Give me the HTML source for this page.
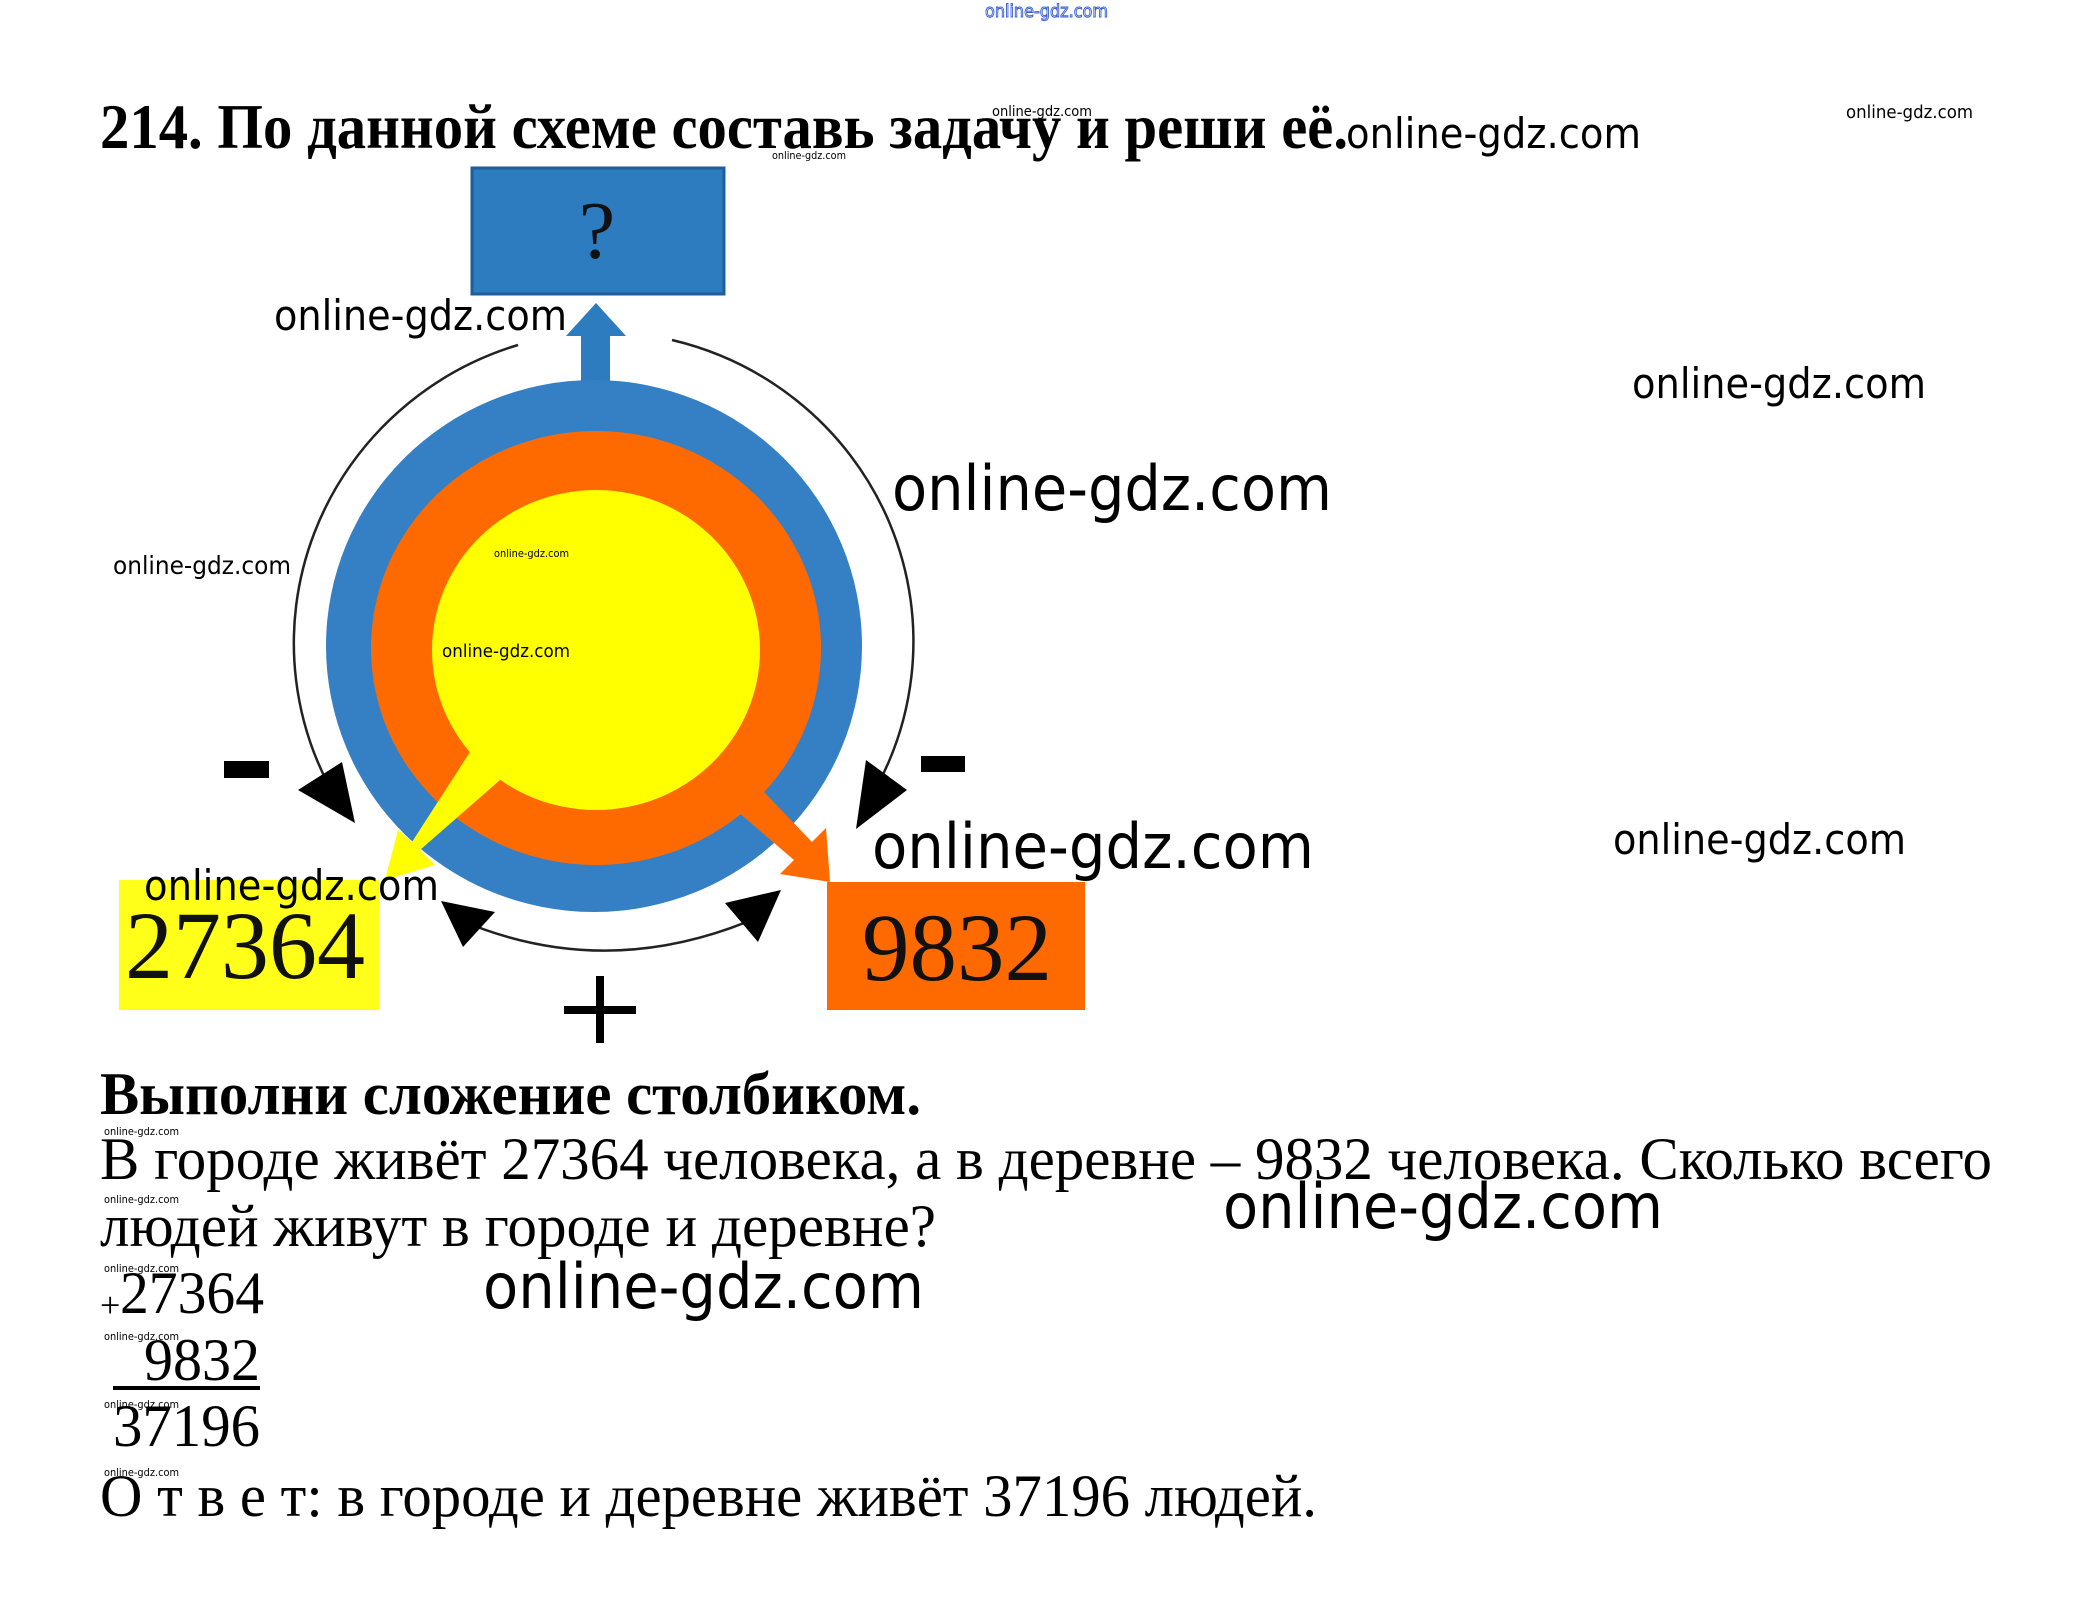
<!DOCTYPE html>
<html><head><meta charset="utf-8"><style>html,body{margin:0;padding:0;background:#fff}svg{display:block}</style></head>
<body>
<svg width="2083" height="1605" viewBox="0 0 2083 1605" xmlns="http://www.w3.org/2000/svg">
<rect width="2083" height="1605" fill="#fff"/>
<g font-family="'Liberation Serif','DejaVu Serif',serif" fill="#000">
<text x="100" y="148" font-size="64" font-weight="bold" textLength="1248" lengthAdjust="spacingAndGlyphs">214. По данной схеме составь задачу и реши её.</text>
</g>
<rect x="472" y="168" width="252" height="126" fill="#2e7cc0" stroke="#1e5e9a" stroke-width="3"/>
<text x="597" y="258" font-family="'Liberation Serif',serif" font-size="82" text-anchor="middle" fill="#111">?</text>
<rect x="581" y="333" width="29" height="50" fill="#2e7cc0"/>
<polygon points="566,336 596,303 626,336" fill="#2e7cc0"/>
<ellipse cx="594" cy="646" rx="268" ry="266" fill="#3580c4"/>
<ellipse cx="596" cy="648" rx="225" ry="217" fill="#ff6a00"/>
<ellipse cx="596" cy="650" rx="164" ry="160" fill="#ffff00"/>
<polygon points="470,752 500,780 420,850 435,865 385,880 398,830 412,842" fill="#ffff00"/>
<polygon points="738,812 762,790 812,842 826,828 830,882 780,874 794,860" fill="#ff6a00"/>
<g fill="none" stroke="#222" stroke-width="2.5">
<path d="M518,345 A318,312 0 0 0 340,805"/>
<path d="M672,340 A315,310 0 0 1 866,805"/>
<path d="M460,920 Q612,985 770,912"/>
</g>
<polygon points="355,823 298,790 342,762" fill="#000"/>
<polygon points="856,829 866,760 907,790" fill="#000"/>
<polygon points="441,901 495,912 463,947" fill="#000"/>
<polygon points="781,890 725,903 758,942" fill="#000"/>
<rect x="224" y="761" width="45" height="17" fill="#000"/>
<rect x="921" y="756" width="44" height="16" fill="#000"/>
<rect x="596" y="976" width="8" height="67" fill="#000"/>
<rect x="564" y="1006" width="72" height="8" fill="#000"/>
<rect x="119" y="880" width="260" height="130" fill="#ffff1a"/>
<text x="125" y="978" font-family="'Liberation Serif',serif" font-size="96" textLength="240" lengthAdjust="spacingAndGlyphs" fill="#111">27364</text>
<rect x="827" y="882" width="258" height="128" fill="#ff6a00"/>
<text x="862" y="980" font-family="'Liberation Serif',serif" font-size="96" textLength="190" lengthAdjust="spacingAndGlyphs" fill="#111">9832</text>
<g font-family="'Liberation Serif','DejaVu Serif',serif" fill="#000">
<text x="100" y="1114" font-size="60" font-weight="bold" textLength="821" lengthAdjust="spacingAndGlyphs">Выполни сложение столбиком.</text>
<text x="100" y="1179" font-size="60" textLength="1892" lengthAdjust="spacingAndGlyphs">В городе живёт 27364 человека, а в деревне – 9832 человека. Сколько всего</text>
<text x="100" y="1246" font-size="60" textLength="836" lengthAdjust="spacingAndGlyphs">людей живут в городе и деревне?</text>
<text x="100" y="1317" font-size="36">+</text>
<text x="120" y="1313" font-size="60" textLength="144" lengthAdjust="spacingAndGlyphs">27364</text>
<text x="144" y="1380" font-size="60" textLength="116" lengthAdjust="spacingAndGlyphs">9832</text>
<rect x="113" y="1386" width="147" height="4"/>
<text x="113" y="1446" font-size="60" textLength="147" lengthAdjust="spacingAndGlyphs">37196</text>
<text x="100" y="1516" font-size="60" textLength="1217" lengthAdjust="spacingAndGlyphs">О т в е т: в городе и деревне живёт 37196 людей.</text>
</g>
<g font-family="'DejaVu Sans','Liberation Sans',sans-serif" fill="#000">
<text x="274" y="330" font-size="42" textLength="293" lengthAdjust="spacingAndGlyphs">online-gdz.com</text>
<text x="1632" y="398" font-size="42" textLength="294" lengthAdjust="spacingAndGlyphs">online-gdz.com</text>
<text x="892" y="510" font-size="62" textLength="440" lengthAdjust="spacingAndGlyphs">online-gdz.com</text>
<text x="113" y="574" font-size="25" textLength="178" lengthAdjust="spacingAndGlyphs">online-gdz.com</text>
<text x="1346" y="148" font-size="42" textLength="295" lengthAdjust="spacingAndGlyphs">online-gdz.com</text>
<text x="1846" y="118" font-size="18" textLength="127" lengthAdjust="spacingAndGlyphs">online-gdz.com</text>
<text x="992" y="116" font-size="14" textLength="100" lengthAdjust="spacingAndGlyphs">online-gdz.com</text>
<text x="772" y="159" font-size="11" textLength="74" lengthAdjust="spacingAndGlyphs">online-gdz.com</text>
<text x="494" y="557" font-size="11" textLength="75" lengthAdjust="spacingAndGlyphs">online-gdz.com</text>
<text x="442" y="657" font-size="18" textLength="128" lengthAdjust="spacingAndGlyphs">online-gdz.com</text>
<text x="872" y="868" font-size="62" textLength="442" lengthAdjust="spacingAndGlyphs">online-gdz.com</text>
<text x="1613" y="854" font-size="42" textLength="293" lengthAdjust="spacingAndGlyphs">online-gdz.com</text>
<text x="144" y="900" font-size="42" textLength="295" lengthAdjust="spacingAndGlyphs">online-gdz.com</text>
<text x="1223" y="1228" font-size="62" textLength="440" lengthAdjust="spacingAndGlyphs">online-gdz.com</text>
<text x="483" y="1308" font-size="62" textLength="441" lengthAdjust="spacingAndGlyphs">online-gdz.com</text>
<text x="104" y="1135" font-size="11" textLength="75" lengthAdjust="spacingAndGlyphs">online-gdz.com</text>
<text x="104" y="1203" font-size="11" textLength="75" lengthAdjust="spacingAndGlyphs">online-gdz.com</text>
<text x="104" y="1272" font-size="11" textLength="75" lengthAdjust="spacingAndGlyphs">online-gdz.com</text>
<text x="104" y="1340" font-size="11" textLength="75" lengthAdjust="spacingAndGlyphs">online-gdz.com</text>
<text x="104" y="1408" font-size="11" textLength="75" lengthAdjust="spacingAndGlyphs">online-gdz.com</text>
<text x="104" y="1476" font-size="11" textLength="75" lengthAdjust="spacingAndGlyphs">online-gdz.com</text>
<text x="985" y="17" font-size="18" textLength="123" lengthAdjust="spacingAndGlyphs" fill="none" stroke="#3a5fd0" stroke-width="1">online-gdz.com</text>
</g>
</svg>
</body></html>
